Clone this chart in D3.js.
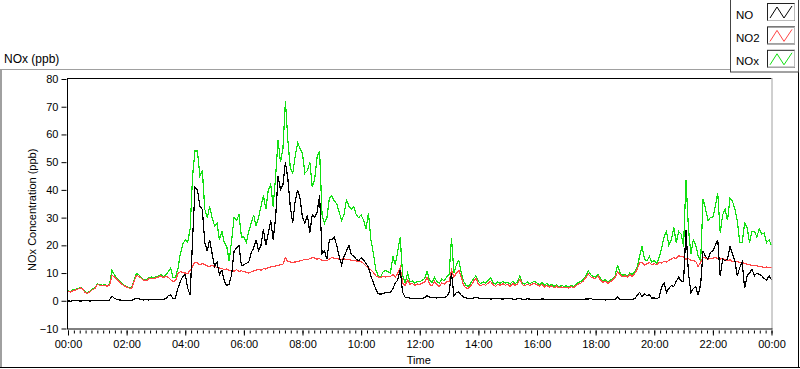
<!DOCTYPE html>
<html><head><meta charset="utf-8">
<script src="https://cdn.jsdelivr.net/npm/d3@7"></script>
<style>
html,body{margin:0;padding:0;background:#fff;}
svg{display:block;font-family:"Liberation Sans",Arial,sans-serif;}
</style></head>
<body>
<svg id="c" width="800" height="369"></svg>
<script>
// ---- data (5-minute samples, 00:00 .. 24:00) ----
const STEP_MIN = 5;
const seriesNames = ["NO", "NO2", "NOx"];
const seriesColors = ["#000000", "#ff4545", "#12e012"];
const yTicks = [-10, 0, 10, 20, 30, 40, 50, 60, 70, 80];
const xTickLabels = ["00:00","02:00","04:00","06:00","08:00","10:00","12:00","14:00","16:00","18:00","20:00","22:00","00:00"];

const NO = [
 0.0,-0.2,0.1,0.0,0.1,-0.1,0.0,0.1,0.0,-0.1,0.0,0.2,
 0.1,0.0,0.1,0.2,0.1,0.3,1.7,0.9,0.5,0.3,0.2,0.1,
 0.1,0.1,0.2,0.5,0.9,0.7,0.4,0.3,0.4,0.3,0.5,0.4,
 0.5,0.4,0.6,0.5,0.7,1.8,2.2,0.8,1.0,4.5,7.0,8.8,
 9.4,4.6,2.0,22,41,40,34,33,21,18,22,17,
 12.4,14,9.5,11,7,5.5,6,9.5,18,19,20,12.6,
 13,13.5,14,17.4,19,22,18,20,25.7,20,24.5,29,
 22,30,45,40,42,50,44,34,28,36,40,37,
 30,28,31,24.5,31,30,32,38,17,18,15,22,
 22,23,20,16,13,16,18,20,16.7,16,15,14.5,
 15.5,14.8,13.5,12,9,6.5,4.3,2.5,2.4,2.6,3.0,3.1,
 3.0,4.3,6.5,7.5,11.2,3.0,1.3,1.2,0.9,0.8,0.7,0.8,
 0.8,0.7,1.2,1.8,1.3,1.1,1.2,1.0,1.3,1.2,1.1,1.5,
 3.0,10,1.8,3.0,3.2,2.0,1.3,1.0,0.8,0.9,1.0,1.2,
 1.0,0.8,0.7,0.9,0.8,0.6,0.7,0.9,0.8,0.7,0.6,0.8,
 0.7,0.8,0.6,0.5,0.7,0.8,0.6,0.5,0.7,0.6,0.5,0.6,
 0.6,0.5,0.7,0.6,0.5,0.4,0.6,0.5,0.4,0.5,0.6,0.5,
 0.5,0.4,0.5,0.6,0.4,0.5,0.6,0.5,0.7,0.6,0.8,0.5,
 0.5,0.4,0.6,0.5,0.3,0.4,0.5,0.4,0.6,1.5,0.5,0.4,
 0.5,0.4,0.6,0.5,0.7,2.0,3.0,1.5,2.5,1.8,2.2,1.0,
 1.0,0.8,1.2,5.0,6.4,3.0,4.5,5.5,5.2,7.0,8.5,7.2,
 7.0,25.6,10,3.0,4.5,5.0,2.0,6.0,18,16,15,17.5,
 18,20,22,9,15,14.5,15,19.6,17,14.4,9,12,
 14,4.5,9,10,11.4,9,10,9.5,9,8,7.5,9,7.5
];
const NO2 = [
 3.4,3.2,3.6,3.9,4.2,4.6,4.3,3.0,2.7,3.2,4.0,4.4,
 5.9,5.6,5.4,5.6,5.3,5.5,9.2,8.6,7.8,6.8,6.0,5.4,
 5.0,4.6,4.4,6.8,9.2,8.8,8.1,7.4,7.2,7.9,8.2,8.0,
 8.3,8.6,9.0,8.4,8.8,8.5,7.6,7.0,7.2,9.8,10.5,10.2,
 10,9.8,11,12.4,14,13.6,13,13.4,13,12.6,12.4,12.8,
 12.4,12.0,11.8,11.6,11.3,11.5,11.0,10.8,10.7,11.2,10.6,10.8,
 10.5,10.3,10.0,10.4,10.8,11.0,11.3,11.0,11.6,11.4,12.0,12.2,
 12.3,12.6,12.8,13.0,13.2,15.5,14.2,14.0,13.8,14.0,14.2,14.4,
 14.6,15.0,14.8,15.2,15.6,15.4,15.0,15.2,14.5,14.6,14.5,15.0,
 15.6,15.4,15.2,15.0,15.0,15.1,14.8,14.8,14.6,14.5,14.4,14.2,
 14.0,13.5,12.5,12.0,11.2,10.2,9.0,8.6,8.4,8.8,8.6,8.8,
 8.7,9.5,8.5,10,12,6.3,5.5,7.5,6.0,6.2,5.6,6.1,
 5.9,6.4,6.6,8.5,6.0,5.4,7.0,5.8,5.2,6.4,6.0,6.8,
 7.0,11,8.5,10,11,8.5,5.5,4.6,4.5,5.5,7.0,8.2,
 6.0,5.4,6.0,5.6,6.4,7.0,5.8,5.2,6.0,5.6,6.2,5.6,
 5.9,5.2,6.2,5.6,6.0,7.8,5.8,5.4,6.0,5.6,6.0,6.3,
 5.8,5.2,6.0,5.0,5.6,4.9,5.4,4.7,5.3,4.6,5.0,4.7,
 4.9,4.6,5.1,4.7,5.5,6.1,6.4,7.2,8.3,9.6,8.6,8.2,
 8.0,9.0,7.4,6.7,7.0,6.3,6.9,7.5,8.4,10.5,9.4,8.7,
 9.0,8.6,9.4,8.8,9.8,11.4,13.6,14.0,12.8,13.4,13.8,13.0,
 13.4,13.0,13.8,13.6,14.2,14.0,14.6,15.0,15.6,15.2,16.2,16.0,
 15.8,15.0,15.2,14.6,14.5,14.2,12.3,14.0,15.6,15.4,15.0,15.3,
 15.4,15.6,15.2,15.0,15.3,14.8,14.5,14.8,14.2,14.0,14.2,13.8,
 13.8,13.5,13.2,13.0,12.8,12.6,12.6,12.4,12.3,12.0,12.2,12.0,12.2
];
const NOx = [
 3.6,3.3,3.9,4.0,4.4,4.8,4.4,3.2,2.9,3.4,4.2,4.7,
 6.1,5.9,5.6,5.8,5.5,5.8,11.0,9.4,8.2,7.2,6.3,5.6,
 5.2,4.8,4.6,7.2,9.8,9.4,8.5,7.6,7.5,8.2,8.6,8.3,
 8.6,8.9,9.4,8.8,9.3,10.5,11.8,8.2,8.6,11.5,17.0,20.5,
 22,21,26,45,54,54,45,47,33,30,34,30,
 27,28,22,25,21,19.6,14.2,22,30,29,31,23,
 23,21,25,28,31,27,30,34,38,33,40,42,
 34,45,58,50,55,72,58,48,46,52,57,55,
 53,46,47,50,41,44,52,54,31,28,30,37,
 38,36,35,32,29,31,36.6,34,33,34,31,30,
 31,29,26,31.7,22,17.2,11.2,9,8.6,10.5,11,10.5,
 10,16,13,18,23,9,6.5,10,6.8,7.2,6.4,7.0,
 6.8,7.4,8.0,10.5,7.5,6.5,8.5,7.0,6.4,7.8,7.2,8.6,
 9.5,22.6,10,13,14.6,10,7,5.5,5.2,6.5,8,9,
 7.0,6.2,6.8,6.4,7.4,8.2,6.6,6.0,6.8,6.3,7.0,6.4,
 6.6,6.0,7.0,6.2,6.8,9.0,6.4,6.0,6.8,6.2,6.6,7.0,
 6.4,5.8,6.6,5.6,6.2,5.4,6.0,5.2,5.8,5.0,5.6,5.2,
 5.4,5.0,5.6,5.2,6.0,6.6,7.0,7.8,9.0,10.8,9.4,8.8,
 8.6,9.6,8.0,7.2,7.6,6.8,7.4,8.0,9.0,13.0,10.0,9.2,
 9.5,9.0,10,9.4,10.5,12,16,19.6,15,14.4,16,14,
 14.5,13.4,15.6,19,23,25,20,22,26.5,21,25,24,
 19.6,43.7,26,17,22,20,16,14.5,36.8,33,29,30,
 30,34,38.9,24.5,31,33,29,37,36,33,29,21,
 21,28,26.5,21,25,25,23,26,24,24.5,21,22,20
];

// ---- layout ----
const svg = d3.select("#c");
const L = 68, R = 771.5, T = 79, B = 328.5;
const t0 = Date.UTC(2000,0,1,0,0), t1 = Date.UTC(2000,0,2,0,0);
const x = d3.scaleUtc().domain([new Date(t0), new Date(t1)]).range([L, R]);
const y = d3.scaleLinear().domain([yTicks[0], yTicks[yTicks.length-1]]).range([B, T]);
const timeAt = i => new Date(t0 + i*STEP_MIN*60000);

// outer panel frame
svg.append("line").attr("x1",0).attr("x2",730).attr("y1",69.5).attr("y2",69.5).attr("stroke","#a0a0a0");
svg.append("rect").attr("x",0).attr("y",69).attr("width",2).attr("height",298).attr("fill","#a0a0a0");
svg.append("line").attr("x1",0).attr("x2",800).attr("y1",367.5).attr("y2",367.5).attr("stroke","#000");
svg.append("line").attr("x1",798.5).attr("x2",798.5).attr("y1",72).attr("y2",368).attr("stroke","#000");

// title
svg.append("text").attr("x",4).attr("y",63).attr("font-size",12).attr("fill","#000").text("NOx (ppb)");

// plot frame
svg.append("line").attr("x1",L).attr("x2",R).attr("y1",T-0.5).attr("y2",T-0.5).attr("stroke","#000");
svg.append("line").attr("x1",R+0.5).attr("x2",R+0.5).attr("y1",T-1).attr("y2",B+1).attr("stroke","#a0a0a0");
svg.append("line").attr("x1",L).attr("x2",R+1).attr("y1",B+0.5).attr("y2",B+0.5).attr("stroke","#000");
svg.append("line").attr("x1",L-0.5).attr("x2",L-0.5).attr("y1",T-1).attr("y2",B+1).attr("stroke","#000");

// series
svg.append("clipPath").attr("id","pc").append("rect").attr("x",L).attr("y",T).attr("width",R-L).attr("height",B-T);
const lineGen = d3.line().x((d,i)=>x(timeAt(i))).y(d=>y(d)).curve(d3.curveLinear);
const g = svg.append("g").attr("clip-path","url(#pc)");
const data = {NO:NO, NO2:NO2, NOx:NOx};
["NOx","NO2","NO"].forEach(k=>{
  const ci = seriesNames.indexOf(k);
  g.append("path").datum(data[k]).attr("d",lineGen).attr("fill","none")
   .attr("stroke",seriesColors[ci]).attr("stroke-width",1.2).attr("shape-rendering","crispEdges");
});

// y axis
const yAxis = d3.axisLeft(y).tickValues(yTicks).tickSize(5).tickPadding(3).tickFormat(d3.format("d"));
const ya = svg.append("g").attr("transform",`translate(${L-1.5},0)`).call(yAxis);
ya.select(".domain").remove();
ya.selectAll("text").attr("font-size",11).attr("font-family","Liberation Sans, Arial, sans-serif").attr("fill","#000");
ya.selectAll("line").attr("stroke","#000");

// x axis: minor then major
const xMinor = d3.axisBottom(x).ticks(d3.utcMinute.every(12)).tickSize(3).tickFormat("");
const xm = svg.append("g").attr("transform",`translate(0,${B+2})`).call(xMinor);
xm.select(".domain").remove();
xm.selectAll("line").attr("stroke","#000");
const majors = d3.range(xTickLabels.length).map(i=>new Date(t0 + i*2*3600000));
const xAxis = d3.axisBottom(x).tickValues(majors).tickSize(5).tickPadding(5).tickFormat((d,i)=>xTickLabels[i]);
const xa = svg.append("g").attr("transform",`translate(0,${B+2})`).call(xAxis);
xa.select(".domain").remove();
xa.selectAll("line").attr("stroke","#000");
xa.selectAll("text").attr("font-size",11).attr("font-family","Liberation Sans, Arial, sans-serif").attr("fill","#000");

// axis titles
svg.append("text").attr("transform",`translate(36,${(T+B)/2+6}) rotate(-90)`).attr("text-anchor","middle")
  .attr("font-size",11).attr("fill","#000").text("NOx Concentration (ppb)");
svg.append("text").attr("x",(L+R)/2-1).attr("y",364).attr("text-anchor","middle")
  .attr("font-size",11).attr("fill","#000").text("Time");

// legend
const lg = svg.append("g");
lg.append("rect").attr("x",730.5).attr("y",-1).attr("width",68).attr("height",73).attr("fill","#fff").attr("stroke","#444");
seriesNames.forEach((n,i)=>{
  const y0 = 3 + i*23.4;
  lg.append("text").attr("x",736).attr("y",y0+15.5).attr("font-size",11.5).attr("fill","#000").text(n);
  lg.append("rect").attr("x",767.5).attr("y",y0+0.5).attr("width",27).attr("height",17).attr("fill","#fff").attr("stroke","#222");
  lg.append("line").attr("x1",794.5).attr("x2",794.5).attr("y1",y0+0.5).attr("y2",y0+17.5).attr("stroke","#bbb");
  lg.append("line").attr("x1",767.5).attr("x2",794.5).attr("y1",y0+17.5).attr("y2",y0+17.5).attr("stroke","#bbb");
  const zz = [[770,y0+15],[777,y0+4],[784,y0+15],[792,y0+3]];
  lg.append("path").attr("d",d3.line()(zz)).attr("fill","none").attr("stroke",seriesColors[i]).attr("stroke-width",1);
});
</script>
</body></html>
